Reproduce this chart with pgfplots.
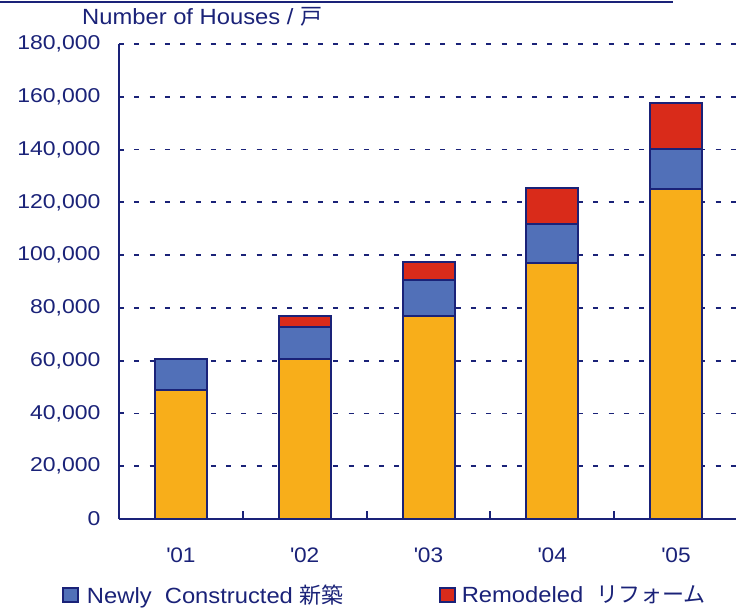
\documentclass[border=0pt]{standalone}
\usepackage{pgfplots}
\pgfplotsset{compat=1.18}
\usepackage{fontspec}
\setmainfont[FakeStretch=1.08]{Liberation Sans}
\newfontfamily\widefont[FakeStretch=1.15]{Liberation Sans}
\newfontfamily\cjk{Noto Sans CJK JP}
\definecolor{navy}{HTML}{1A2278}
\definecolor{byellow}{HTML}{F8AE1A}
\definecolor{bblue}{HTML}{5170B8}
\definecolor{bred}{HTML}{D92B1A}
\begin{document}
\begin{tikzpicture}[x=1pt,y=1pt]
\useasboundingbox (0,0) rectangle (736,608);
\draw[navy, line width=2pt] (0,606) -- (673,606);
\begin{axis}[
  at={(119pt,89pt)}, anchor=south west,
  width=619pt, height=475pt, scale only axis,
  xmin=0.5, xmax=5.5, ymin=0, ymax=180000,
  ybar stacked, bar width=52pt,
  axis x line*=bottom, axis y line*=left,
  axis line style={navy, line width=2pt},
  xtick={1,2,3,4,5},
  xticklabels={\textquotesingle01,\textquotesingle02,\textquotesingle03,\textquotesingle04,\textquotesingle05},
  minor xtick={1.5,2.5,3.5,4.5},
  major x tick style={draw=none},
  minor tick length=8pt,
  tick align=inside,
  ytick={0,20000,...,180000},
  major tick length=5pt,
  tick style={navy, line width=2pt},
  ymajorgrids,
  major grid style={navy, line width=1.8pt, dash pattern=on 5pt off 10.3pt},
  /pgf/number format/fixed,
  /pgf/number format/assume math mode=true,
  /pgf/number format/1000 sep={,},
  scaled y ticks=false,
  yticklabel style={font=\widefont\fontsize{20}{22}\selectfont, text=navy, xshift=-15pt},
  xticklabel style={font=\fontsize{21}{23}\selectfont, text=navy, yshift=-25pt},
  legend columns=2,
  legend style={at={(-0.0921,-0.16)}, anchor=west, draw=none, fill=none, inner sep=0pt,
    nodes={inner sep=0pt},
    font=\fontsize{22}{24}\selectfont, text=navy, legend cell align=left},
  legend image code/.code={\draw[#1, draw=navy, line width=1.8pt] (0pt,-7pt) rectangle (15pt,7pt);},
]
\addplot[fill=byellow, draw=navy, line width=2pt, forget plot] coordinates {(1,49000) (2,60500) (3,77000) (4,97000) (5,125000)};
\addplot[fill=bblue, draw=navy, line width=2pt] coordinates {(1,11600) (2,12300) (3,13500) (4,14700) (5,15100)};
\addplot[fill=bred, draw=navy, line width=2pt] coordinates {(1,0) (2,4200) (3,6800) (4,13700) (5,17700)};
\legend{\makebox[360pt][l]{\hspace*{8pt}Newly\ \ Constructed {\cjk 新築}}, \hspace*{6pt}Remodeled\ \ {\cjk リフォーム}}
\end{axis}
\node[anchor=west, text=navy, font=\fontsize{22}{24}\selectfont, inner sep=0pt] at (82,591) {Number of Houses / {\cjk 戸}};
\end{tikzpicture}
\end{document}
